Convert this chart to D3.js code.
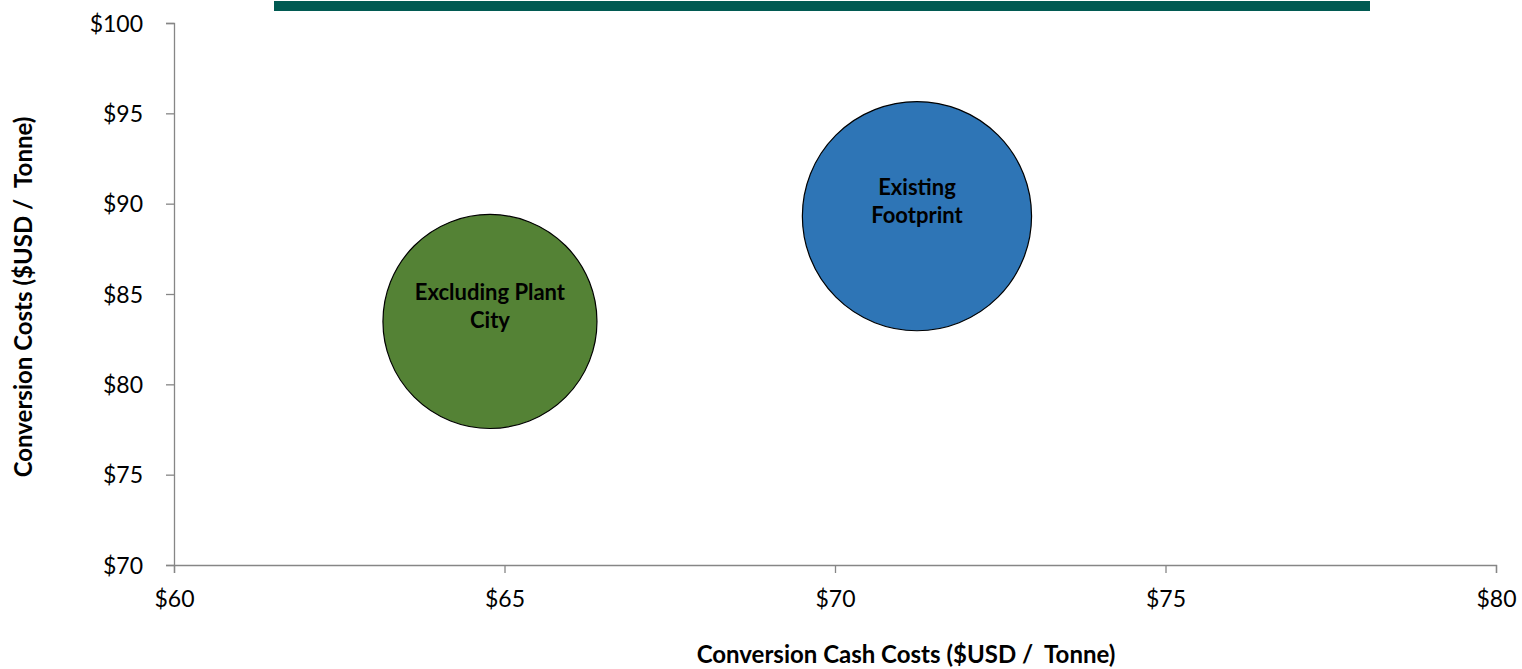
<!DOCTYPE html>
<html>
<head>
<meta charset="utf-8">
<script src="https://cdn.jsdelivr.net/npm/d3@7"></script>
<style>
  html, body { margin: 0; padding: 0; background: #ffffff; }
  svg { display: block; }
</style>
</head>
<body>
<svg id="chart" width="1522" height="669"></svg>
<script>
// bubble data
const names = ["Excluding Plant City", "Existing Footprint"];
const labelLines = [["Excluding Plant", "City"], ["Existing", "Footprint"]];
const cashCosts = [64.78, 71.24];
const convCosts = [83.48, 89.31];
const sizes = [87.2, 100];
const colors = ["#548235", "#2E75B6"];

const xTicks = [60, 65, 70, 75, 80];
const yTicks = [70, 75, 80, 85, 90, 95, 100];

const FONT = "Lato, 'Open Sans', sans-serif";
const AXIS_GREY = "#868686";

const svg = d3.select("#chart");
const margin = { left: 174, right: 26, top: 23, bottom: 104 };
const W = 1522, H = 669;

const x = d3.scaleLinear().domain([60, 80]).range([margin.left, W - margin.right]);
const y = d3.scaleLinear().domain([70, 100]).range([H - margin.bottom, margin.top]);
const r = d3.scaleSqrt().domain([0, d3.max(sizes)]).range([0, 114.6]);

// header band
svg.append("rect")
  .attr("x", 274).attr("y", 1)
  .attr("width", 1096).attr("height", 10)
  .attr("fill", "#015A52");

const xAxis = svg.append("g")
  .attr("transform", `translate(0,${y(70)})`)
  .call(d3.axisBottom(x).tickValues(xTicks).tickSize(8).tickPadding(18)
    .tickFormat(d => "$" + d));

const yAxis = svg.append("g")
  .attr("transform", `translate(${x(60)},0)`)
  .call(d3.axisLeft(y).tickValues(yTicks).tickSize(8).tickPadding(23)
    .tickFormat(d => "$" + d));

[xAxis, yAxis].forEach(g => {
  g.select(".domain").attr("stroke", AXIS_GREY).attr("stroke-width", 1.3);
  g.selectAll(".tick line").attr("stroke", AXIS_GREY).attr("stroke-width", 1.3);
  g.selectAll(".tick text")
    .attr("font-family", FONT)
    .attr("font-size", 23)
    .attr("fill", "#000");
});
yAxis.selectAll(".tick text").attr("dy", "0.36em");

// bubbles
const bubbles = svg.append("g")
  .selectAll("g")
  .data(names.map((n, i) => ({ name: n, lines: labelLines[i], cx: cashCosts[i], cy: convCosts[i], size: sizes[i], color: colors[i] })))
  .join("g");

bubbles.append("circle")
  .attr("cx", d => x(d.cx))
  .attr("cy", d => y(d.cy))
  .attr("r", d => r(d.size))
  .attr("fill", d => d.color)
  .attr("stroke", "#000")
  .attr("stroke-width", 1.2);

bubbles.each(function (d) {
  const t = d3.select(this).append("text")
    .attr("text-anchor", "middle")
    .attr("font-family", FONT)
    .attr("font-weight", "bold")
    .attr("font-size", 22)
    .attr("fill", "#000");
  d.lines.forEach((line, i) => {
    t.append("tspan")
      .attr("x", x(d.cx))
      .attr("y", y(d.cy) + 7 - (d.lines.length - 1 - i) * 28)
      .text(line);
  });
});

// axis titles
svg.append("text")
  .attr("x", 906)
  .attr("y", 663)
  .attr("text-anchor", "middle")
  .attr("font-family", FONT)
  .attr("font-weight", "bold")
  .attr("font-size", 24)
  .attr("fill", "#000")
  .style("white-space", "pre")
  .text("Conversion Cash Costs ($USD /  Tonne)");

svg.append("text")
  .attr("transform", `translate(32,${(y(70) + y(100)) / 2 + 3}) rotate(-90)`)
  .attr("text-anchor", "middle")
  .attr("font-family", FONT)
  .attr("font-weight", "bold")
  .attr("font-size", 24)
  .attr("fill", "#000")
  .style("white-space", "pre")
  .text("Conversion Costs ($USD /  Tonne)");
</script>
</body>
</html>
